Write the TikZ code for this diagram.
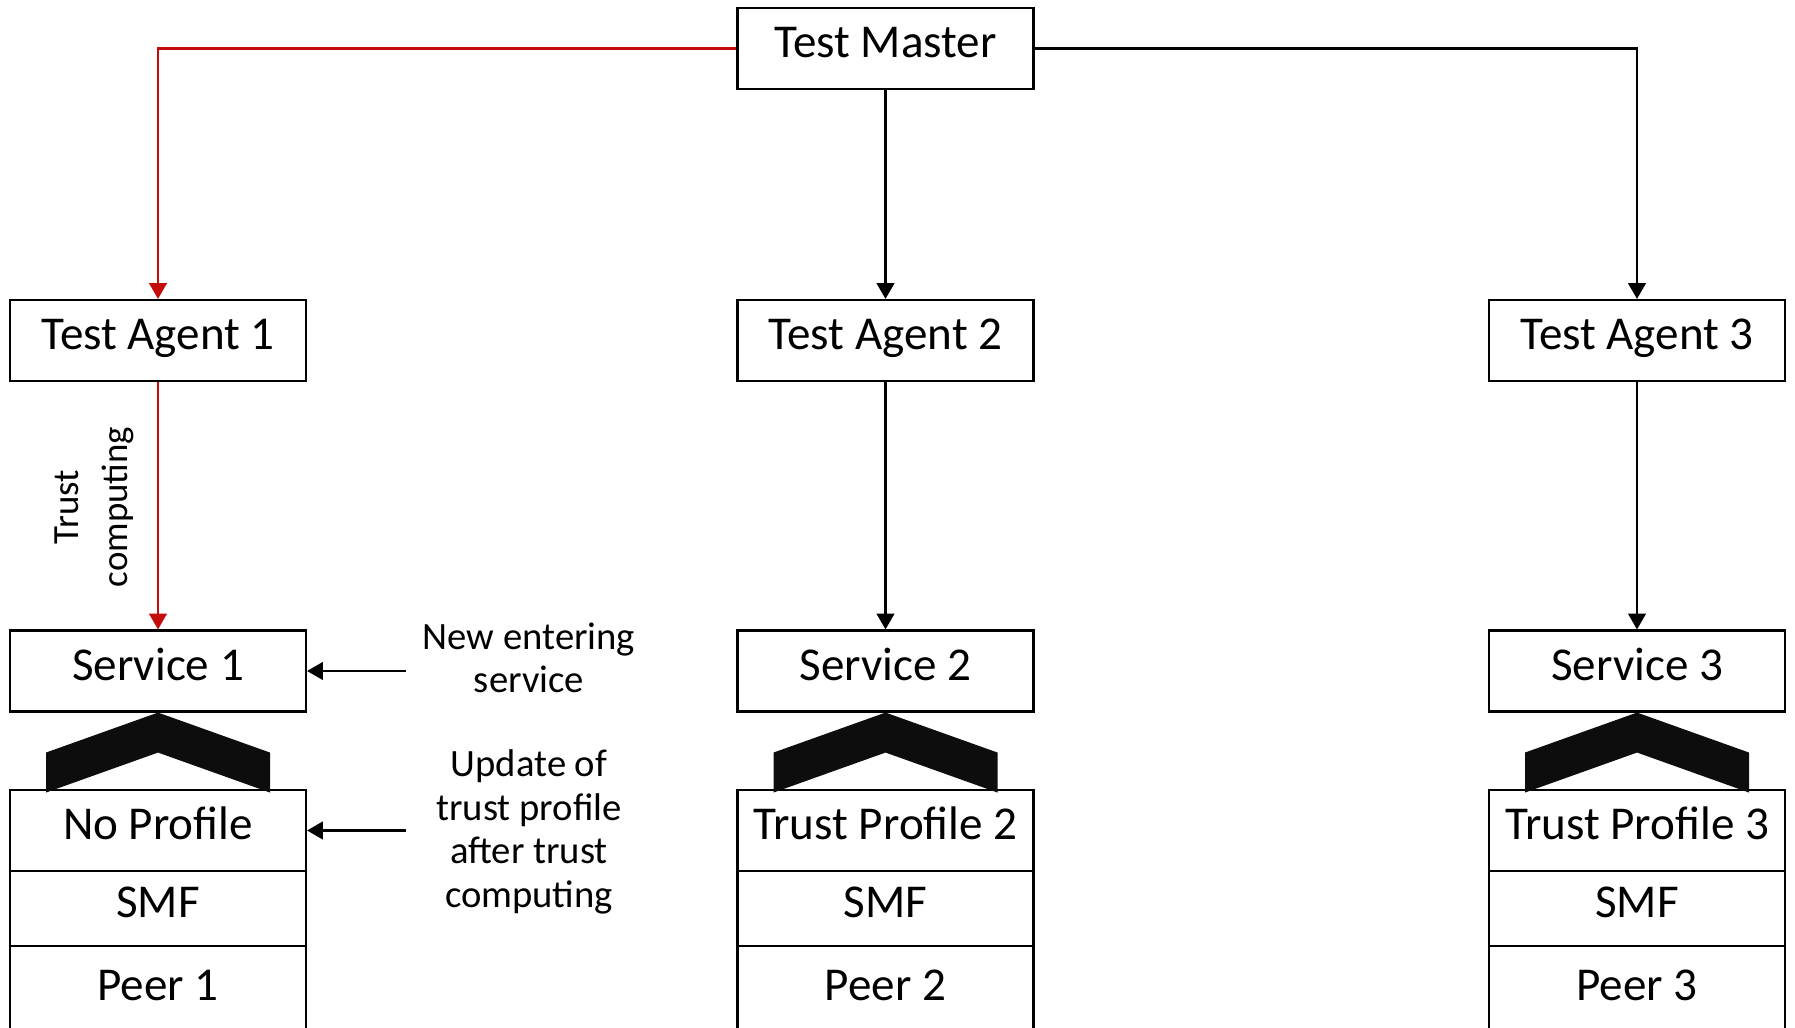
\documentclass[tikz,border=0pt]{standalone}
\usepackage{fontspec}
\setmainfont{Carlito}
\usetikzlibrary{arrows.meta}
\definecolor{linkred}{RGB}{196,12,12}
\definecolor{chevroncolor}{RGB}{13,13,13}

\begin{document}
\begin{tikzpicture}[
			layerbox/.style={
				draw=black,
				line width=0.6pt,
				fill=white,
				align=center,
				minimum width=2.96cm,
				minimum height=0.81cm,
				inner sep=0pt,
				text height=0.7em,
				text depth=0.18em,
				font=\fontsize{13.4}{15}\selectfont
			},
			sidenote/.style={
				align=center,
				inner sep=0pt,
				font=\fontsize{11}{12.4}\selectfont
			},
			flowarrow/.style={
				-{Triangle[length=4.5pt,width=5pt]},
				draw=black,
				line width=0.7pt
			},
			chevron/.style={
				fill=chevroncolor
			}
			]
			
			\useasboundingbox (0,0) rectangle (17.95,10.27);
			
			\node[layerbox] (master) at (8.855,9.785) {Test Master};
			
			% agents
			\node[layerbox] (agent1) at (1.58,6.865) {Test Agent 1};
			\node[layerbox] (agent2) at (8.855,6.865) {Test Agent 2};
			\node[layerbox] (agent3) at (16.37,6.865) {Test Agent 3};
			
			% services
			\node[layerbox] (service1) at (1.58,3.56) {Service 1};
			\node[layerbox] (service2) at (8.855,3.56) {Service 2};
			\node[layerbox] (service3) at (16.37,3.56) {Service 3};
			
			% peer stacks
			\node[layerbox] (profile1) at (1.58,1.965) {No Profile};
			\node[layerbox,minimum height=0.75cm] (smf1) at (1.58,1.185) {SMF};
			\node[layerbox,minimum height=0.91cm] (peer1) at (1.58,0.355) {Peer 1};
			
			\node[layerbox] (profile2) at (8.855,1.965) {Trust Profile 2};
			\node[layerbox,minimum height=0.75cm] (smf2) at (8.855,1.185) {SMF};
			\node[layerbox,minimum height=0.91cm] (peer2) at (8.855,0.355) {Peer 2};
			
			\node[layerbox] (profile3) at (16.37,1.965) {Trust Profile 3};
			\node[layerbox,minimum height=0.75cm] (smf3) at (16.37,1.185) {SMF};
			\node[layerbox,minimum height=0.91cm] (peer3) at (16.37,0.355) {Peer 3};
			
			% chevrons between service and profile
			\fill[chevron] (service1.south) -- ++(1.12,-0.4) -- ++(0,-0.4)
			-- ++(-1.12,0.4) -- ++(-1.12,-0.4) -- ++(0,0.4) -- cycle;
			\fill[chevron] (service2.south) -- ++(1.12,-0.4) -- ++(0,-0.4)
			-- ++(-1.12,0.4) -- ++(-1.12,-0.4) -- ++(0,0.4) -- cycle;
			\fill[chevron] (service3.south) -- ++(1.12,-0.4) -- ++(0,-0.4)
			-- ++(-1.12,0.4) -- ++(-1.12,-0.4) -- ++(0,0.4) -- cycle;
			
			% notes
			\node[sidenote,rotate=90,font=\fontsize{10.5}{14}\selectfont]
			(computing) at (0.94,5.20) {Trust\\computing};
			\node[sidenote] (entering) at (5.29,3.69) {New entering\\service};
			\node[sidenote] (update) at (5.29,1.95) {Update of\\trust profile\\after trust\\computing};
			\coordinate (enterstart) at (4.06,3.56);
			\coordinate (updatestart) at (4.06,1.965);
			
			\draw[flowarrow,draw=linkred,
			-{Triangle[length=4.5pt,width=5pt,fill=linkred]}]
			(master.west) -| (agent1.north);
			\draw[flowarrow] (master.south) -- (agent2.north);
			\draw[flowarrow] (master.east) -| (agent3.north);
			
			\draw[flowarrow,draw=linkred,
			-{Triangle[length=4.5pt,width=5pt,fill=linkred]}]
			(agent1.south) -- (service1.north);
			\draw[flowarrow] (agent2.south) -- (service2.north);
			\draw[flowarrow] (agent3.south) -- (service3.north);
			
			\draw[flowarrow] (enterstart) -- (service1.east);
			\draw[flowarrow] (updatestart) -- (profile1.east);
			
		\end{tikzpicture}
\end{document}
